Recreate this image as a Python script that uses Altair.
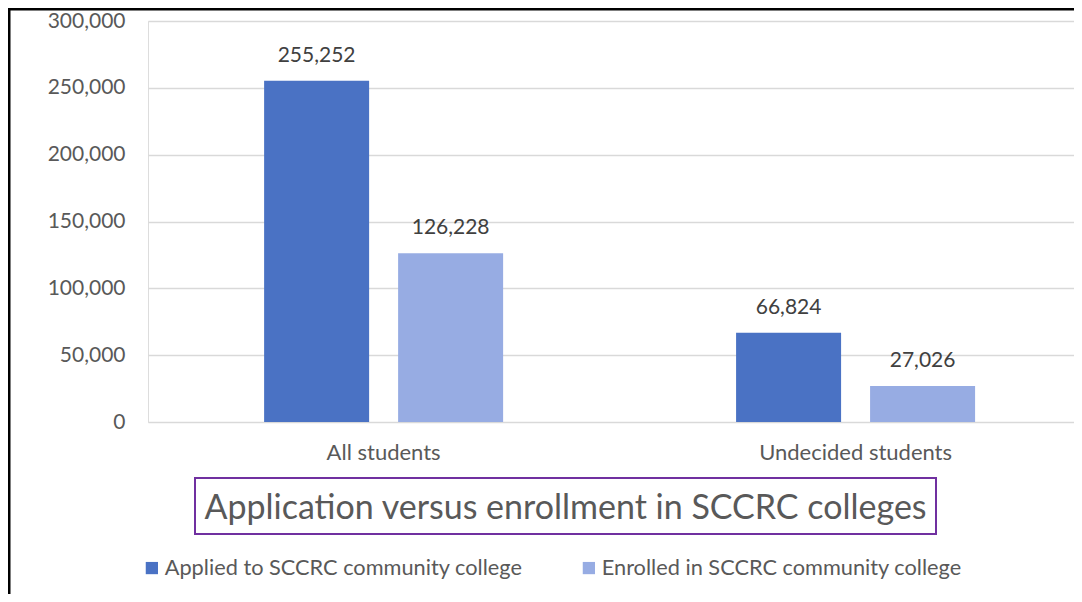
import altair as alt
import pandas as pd

categories = ["All students", "Undecided students"]
series = ["Applied to SCCRC community college", "Enrolled in SCCRC community college"]
applied = [255252, 66824]
enrolled = [126228, 27026]
colors = ["#4A72C4", "#97ACE3"]
y_ticks = [0, 50000, 100000, 150000, 200000, 250000, 300000]
title_text = "Application versus enrollment in SCCRC colleges"

rows = []
for i, c in enumerate(categories):
    rows.append({"category": c, "series": series[0], "value": applied[i]})
    rows.append({"category": c, "series": series[1], "value": enrolled[i]})
df = pd.DataFrame(rows)

FONT = "Lato"

x_enc = alt.X("category:N", sort=categories,
              scale=alt.Scale(paddingInner=0.4936, paddingOuter=0.2278, align=0.54),
              axis=alt.Axis(title=None, labelAngle=0, domain=False, ticks=False,
                            labelPadding=20, labelFontSize=22, labelColor="#595959",
                            labelFont=FONT, grid=False, labelLimit=500))
xoff = alt.XOffset("series:N", sort=series, scale=alt.Scale(paddingInner=0.2164, paddingOuter=0))
y_enc = alt.Y("value:Q", scale=alt.Scale(domain=[0, 300000], nice=False),
              axis=alt.Axis(title=None, values=y_ticks, format=",.0f", domain=False, ticks=False,
                            labelPadding=23, labelFontSize=21, labelColor="#595959",
                            labelFont=FONT, gridColor="#D9D9D9", gridWidth=1.5))

bars = alt.Chart(df).mark_bar().encode(
    x=x_enc, xOffset=xoff, y=y_enc,
    color=alt.Color("series:N", sort=series,
                    scale=alt.Scale(domain=series, range=colors),
                    legend=alt.Legend(title=None, orient="none", direction="horizontal",
                                      legendX=-7, legendY=536, symbolType="square",
                                      symbolSize=150, symbolStrokeWidth=0, symbolOpacity=1,
                                      labelFontSize=21.75, labelFont=FONT, labelColor="#595959",
                                      labelOffset=2, columnPadding=55, labelLimit=600))
)

labels = alt.Chart(df).mark_text(baseline="alphabetic", dy=-19, fontSize=21, font=FONT,
                                 color="#404040").encode(
    x=alt.X("category:N", sort=categories), xOffset=alt.XOffset("series:N", sort=series),
    y="value:Q", text=alt.Text("value:Q", format=",.0f")
)

title_df = pd.DataFrame({"t": [title_text]})
title_box = alt.Chart(title_df).mark_rect(filled=False, stroke="#7030A0", strokeWidth=2).encode(
    x=alt.value(47), x2=alt.value(788), y=alt.value(457), y2=alt.value(513)
)
title_txt = alt.Chart(title_df).mark_text(fontSize=34, font=FONT, color="#595959",
                                          align="center", baseline="middle").encode(
    x=alt.value(417.5), y=alt.value(488), text="t:N"
)
border = alt.Chart(title_df).mark_rect(filled=False, stroke="#000000", strokeWidth=3).encode(
    x=alt.value(-139), x2=alt.value(1300), y=alt.value(-12), y2=alt.value(1000)
)

chart = alt.layer(bars, labels, title_box, title_txt, border).properties(
    width=926, height=401,
    padding={"left": 140, "top": 13, "right": 0, "bottom": 172},
    autosize=alt.AutoSizeParams(type="none"),
).configure_view(stroke=None).configure(background="white")

chart.save("out.html", embed_options={"renderer": "svg", "actions": False})
